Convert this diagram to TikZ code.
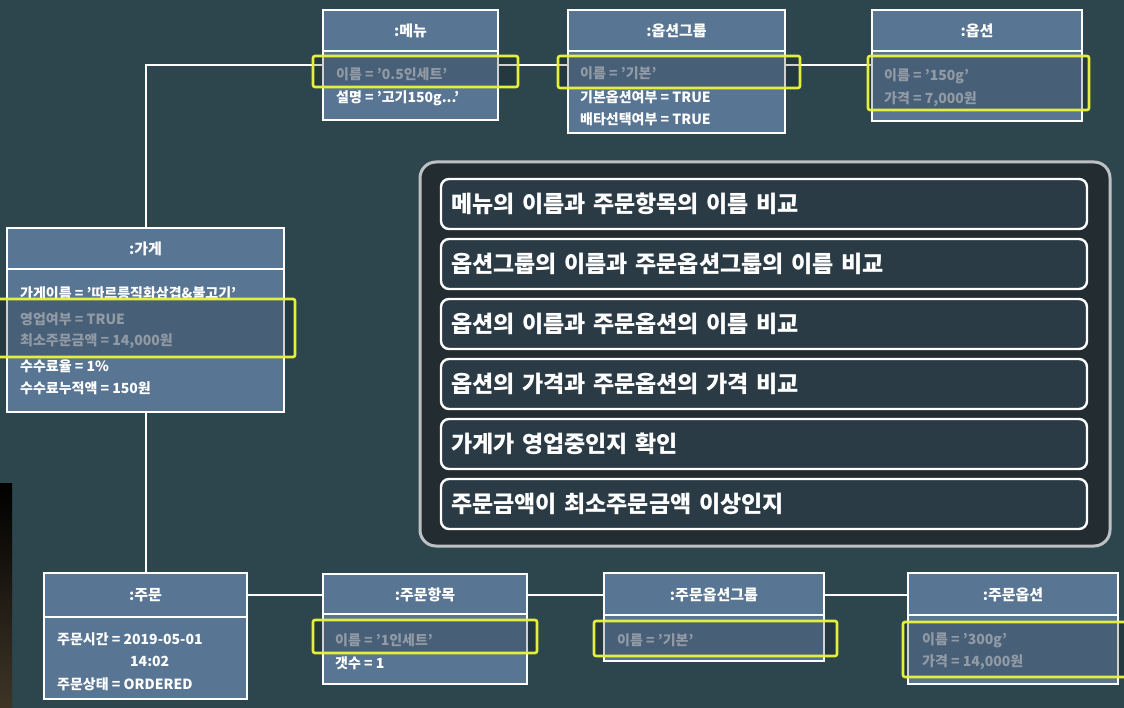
\documentclass[tikz,border=0pt]{standalone}
\usepackage{fontspec}
\setmainfont{Noto Sans CJK KR}
\usetikzlibrary{positioning}

\definecolor{board}{HTML}{2D454D}
\definecolor{objblue}{HTML}{587593}
\definecolor{hiyellow}{HTML}{E4EE3C}
\definecolor{dimtext}{HTML}{B3BECA}
\definecolor{panelfill}{HTML}{222C31}
\definecolor{panelrim}{HTML}{BDC1C3}
\definecolor{checkfill}{HTML}{2B3B45}
\definecolor{stripbrown}{HTML}{3E3526}

\tikzset{
  objbox/.style={draw=white, line width=2.4pt, fill=objblue, inner sep=0pt},
  objtitle/.style={text=white, font=\fontsize{15}{18}\selectfont\bfseries, inner sep=0pt},
  attr/.style={text=white, font=\fontsize{14}{17}\selectfont\bfseries, anchor=west, inner sep=0pt},
  dimattr/.style={attr, text=dimtext},
  sepline/.style={draw=white, line width=2.4pt},
  hilite/.style={draw=hiyellow, line width=2.6pt, fill=black, fill opacity=0.18, rounded corners=2pt},
  link/.style={draw=white, line width=2pt},
  panelbox/.style={draw=panelrim, line width=3pt, fill=panelfill, rounded corners=16pt,
    minimum width=690pt, minimum height=384pt},
  checkbox/.style={draw=white, line width=2.4pt, fill=checkfill, rounded corners=8pt, outer sep=0pt,
    minimum width=646pt, minimum height=50pt, text width=626pt, align=left, text=white,
    font=\fontsize{23}{27}\selectfont\bfseries},
}

\begin{document}
\begin{tikzpicture}[x=1pt,y=-1pt]
\fill[board] (0,0) rectangle (1124,708);
\useasboundingbox (0,0) rectangle (1124,708);
\shade[top color=black, bottom color=stripbrown] (0,483) rectangle (12,708);

% object boxes, top row
\node[objbox, minimum width=175pt, minimum height=110pt] (menu) at (410.5,65) {};
\draw[sepline] ([yshift=-42pt]menu.north west) -- ([yshift=-42pt]menu.north east);
\node[objtitle] (menu-t) at (410.5,31) {:메뉴};
\node[dimattr] (menu-a1) at (336,74) {이름 = '0.5인세트'};
\node[attr] (menu-a2) at (336,98) {설명 = '고기150g...'};

\node[objbox, minimum width=217pt, minimum height=123pt] (optgroup) at (676.5,71.5) {};
\draw[sepline] ([yshift=-42pt]optgroup.north west) -- ([yshift=-42pt]optgroup.north east);
\node[objtitle] (optgroup-t) at (676.5,31) {:옵션그룹};
\node[dimattr] (optgroup-a1) at (580,73) {이름 = '기본'};
\node[attr] (optgroup-a2) at (580,97) {기본옵션여부 = TRUE};
\node[attr] (optgroup-a3) at (580,119) {배타선택여부 = TRUE};

\node[objbox, minimum width=210pt, minimum height=111pt] (option) at (977,65.5) {};
\draw[sepline] ([yshift=-42pt]option.north west) -- ([yshift=-42pt]option.north east);
\node[objtitle] (option-t) at (977,31) {:옵션};
\node[dimattr] (option-a1) at (884,76) {이름 = '150g'};
\node[dimattr] (option-a2) at (884,99) {가격 = 7,000원};

% store
\node[objbox, minimum width=277pt, minimum height=184pt] (store) at (145.5,320) {};
\draw[sepline] ([yshift=-42pt]store.north west) -- ([yshift=-42pt]store.north east);
\node[objtitle] (store-t) at (145.5,249) {:가게};
\node[attr] (store-a1) at (20,293) {가게이름 = '따르릉직화삼겹\&불고기'};
\node[dimattr] (store-a2) at (20,319) {영업여부 = TRUE};
\node[dimattr] (store-a3) at (20,341) {최소주문금액 = 14,000원};
\node[attr] (store-a4) at (20,366) {수수료율 = 1\%};
\node[attr] (store-a5) at (20,388) {수수료누적액 = 150원};

% object boxes, bottom row
\node[objbox, minimum width=203pt, minimum height=126pt] (order) at (145.5,636) {};
\draw[sepline] ([yshift=-45pt]order.north west) -- ([yshift=-45pt]order.north east);
\node[objtitle] (order-t) at (145.5,595) {:주문};
\node[attr] (order-a1) at (57,639) {주문시간 = 2019-05-01};
\node[attr] (order-a2) at (130,661) {14:02};
\node[attr] (order-a3) at (57,684) {주문상태 = ORDERED};

\node[objbox, minimum width=204pt, minimum height=110pt] (item) at (425,629) {};
\draw[sepline] ([yshift=-41pt]item.north west) -- ([yshift=-41pt]item.north east);
\node[objtitle] (item-t) at (425,595) {:주문항목};
\node[dimattr] (item-a1) at (335,640) {이름 = '1인세트'};
\node[attr] (item-a2) at (335,663) {갯수 = 1};

\node[objbox, minimum width=220pt, minimum height=88pt] (ordgroup) at (714,617) {};
\draw[sepline] ([yshift=-43pt]ordgroup.north west) -- ([yshift=-43pt]ordgroup.north east);
\node[objtitle] (ordgroup-t) at (714,595) {:주문옵션그룹};
\node[dimattr] (ordgroup-a1) at (617,640) {이름 = '기본'};

\node[objbox, minimum width=210pt, minimum height=111pt] (ordoption) at (1013,628.5) {};
\draw[sepline] ([yshift=-43pt]ordoption.north west) -- ([yshift=-43pt]ordoption.north east);
\node[objtitle] (ordoption-t) at (1013,595) {:주문옵션};
\node[dimattr] (ordoption-a1) at (922,640) {이름 = '300g'};
\node[dimattr] (ordoption-a2) at (922,662) {가격 = 14,000원};

% links
\draw[link] (store.north) |- (menu.west);
\draw[link] (menu.east) -- (menu.east -| optgroup.west);
\draw[link] (option.west |- menu.east) -- (menu.east -| optgroup.east);
\draw[link] (store.south) -- (order.north);
\draw[link] (order-t -| order.east) -- (order-t -| item.west);
\draw[link] (order-t -| item.east) -- (order-t -| ordgroup.west);
\draw[link] (order-t -| ordgroup.east) -- (order-t -| ordoption.west);

% highlights
\draw[hilite] (313,56) rectangle (518,87);
\draw[hilite] (558,56) rectangle (800,88);
\draw[hilite] (868,56) rectangle (1089,110);
\draw[hilite] (-5,299) rectangle (295,357);
\draw[hilite] (313,620) rectangle (537,653);
\draw[hilite] (594,621) rectangle (837,656);
\draw[hilite] (903,622) rectangle (1135,677);

% checks
\node[panelbox] (panel) at (765,354) {};
\node[checkbox] (chk1) at (764,204) {메뉴의 이름과 주문항목의 이름 비교};
\node[checkbox, below=10pt of chk1] (chk2) {옵션그룹의 이름과 주문옵션그룹의 이름 비교};
\node[checkbox, below=10pt of chk2] (chk3) {옵션의 이름과 주문옵션의 이름 비교};
\node[checkbox, below=10pt of chk3] (chk4) {옵션의 가격과 주문옵션의 가격 비교};
\node[checkbox, below=10pt of chk4] (chk5) {가게가 영업중인지 확인};
\node[checkbox, below=10pt of chk5] (chk6) {주문금액이 최소주문금액 이상인지};

\end{tikzpicture}
\end{document}
